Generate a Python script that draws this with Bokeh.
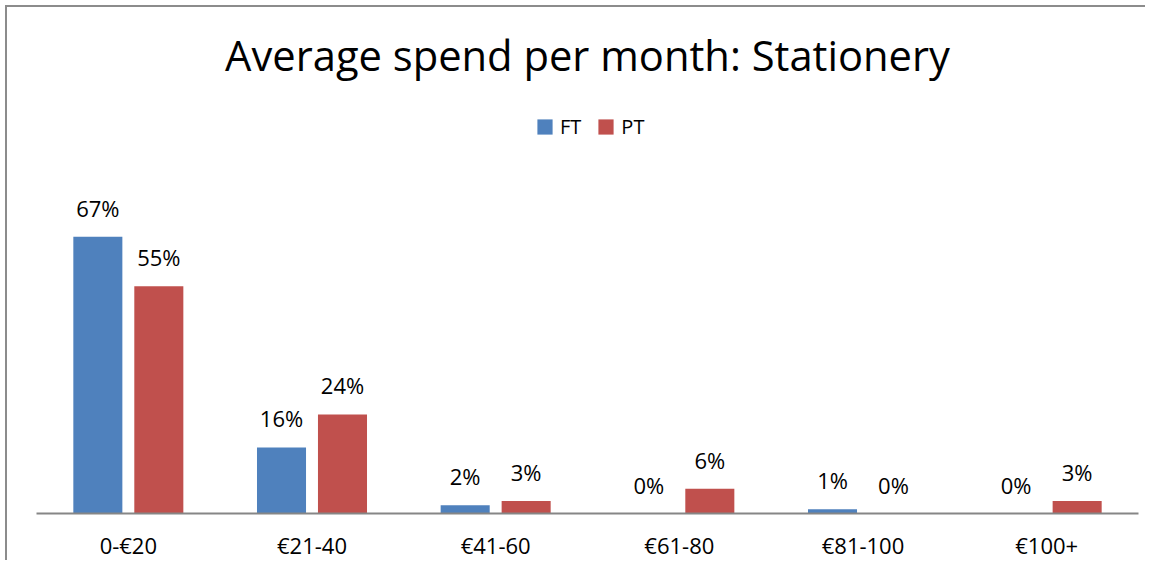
from bokeh.plotting import figure
from bokeh.models import Range1d, FixedTicker, Legend, LegendItem, ColumnDataSource
from bokeh.core.properties import value
from bokeh.embed import file_html
from bokeh.resources import INLINE

categories = ["0-€20", "€21-40", "€41-60", "€61-80", "€81-100", "€100+"]
ft_values = [67, 16, 2, 0, 1, 0]
pt_values = [55, 24, 3, 6, 0, 3]
series_names = ["FT", "PT"]
title_text = "Average spend per month: Stationery"

BLUE = "#4F81BD"
RED = "#C0504D"
FONT = "Open Sans"

W, H = 1140, 555
px_per_unit = 4.13
frame_h = 506

p = figure(width=W, height=H, output_backend="svg", toolbar_location=None,
           title_location=None,
           x_range=Range1d(0, len(categories)),
           y_range=Range1d(0, frame_h / px_per_unit),
           min_border_left=29, min_border_right=9, min_border_top=0, min_border_bottom=49,
           y_axis_location=None)
p.styles = {"border-left": "2px solid #8c8c8c", "border-top": "2px solid #8c8c8c",
            "margin-left": "5px", "margin-top": "5px"}
p.outline_line_color = None
p.grid.visible = False
p.background_fill_color = "white"
p.border_fill_color = "white"

centers = [i + 0.5 for i in range(len(categories))]
off = 0.166
bw = 0.267
ft_x = [c - off for c in centers]
pt_x = [c + off for c in centers]

ft_src = ColumnDataSource(dict(x=ft_x, top=ft_values, lab=[f"{v}%" for v in ft_values]))
pt_src = ColumnDataSource(dict(x=pt_x, top=pt_values, lab=[f"{v}%" for v in pt_values]))

r_ft = p.vbar(x="x", top="top", width=bw, source=ft_src, fill_color=BLUE, line_color=None)
r_pt = p.vbar(x="x", top="top", width=bw, source=pt_src, fill_color=RED, line_color=None)

for src in (ft_src, pt_src):
    p.text(x="x", y="top", text="lab", source=src, y_offset=-29,
           text_align="center", text_baseline="alphabetic",
           text_font=value(FONT), text_font_size="22px", text_color="black")

# title
p.text(x=[len(categories) / 2], y=[(513 - 71 + 17) / px_per_unit], text=[title_text],
       text_align="center", text_baseline="alphabetic",
       text_font=value(FONT), text_font_size="41.7px", text_color="black")

ax = p.xaxis[0]
ax.ticker = FixedTicker(ticks=centers)
ax.major_label_overrides = {c: lab for c, lab in zip(centers, categories)}
ax.major_tick_line_color = None
ax.minor_tick_line_color = None
ax.major_tick_out = 0
ax.major_label_standoff = 16
ax.axis_line_color = "#868686"
ax.axis_line_width = 2
ax.major_label_text_font = FONT
ax.major_label_text_font_size = "22px"
ax.major_label_text_color = "black"

legend = Legend(items=[LegendItem(label=series_names[0], renderers=[r_ft]),
                       LegendItem(label=series_names[1], renderers=[r_pt])],
                orientation="horizontal", location=(499, 373),
                glyph_width=19, glyph_height=19, label_standoff=6, spacing=15,
                padding=0, margin=0, border_line_color=None, background_fill_alpha=0,
                label_text_font=FONT, label_text_font_size="20px", label_height=19,
                label_text_color="black")
p.add_layout(legend, "center")

open("out.html", "w").write(file_html(p, INLINE))
